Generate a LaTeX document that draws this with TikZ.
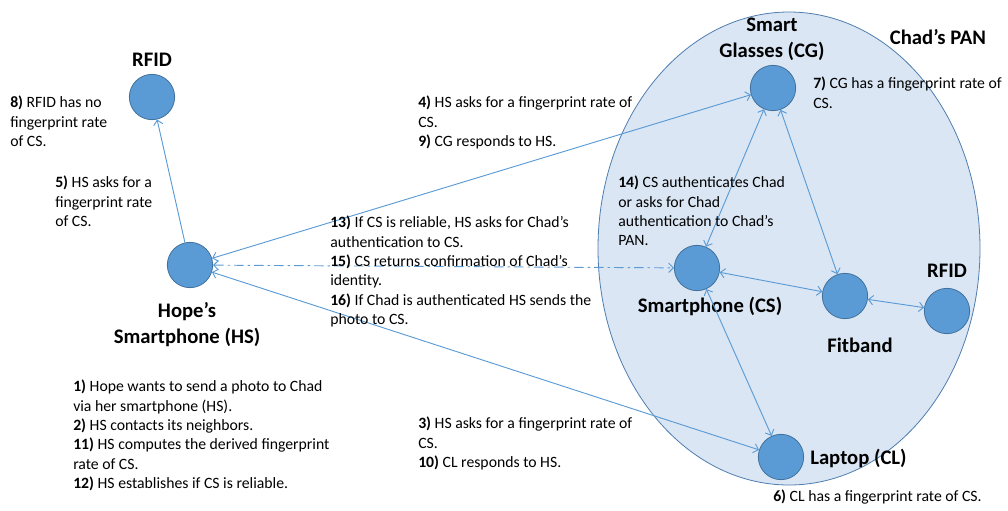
\documentclass[tikz,border=0pt]{standalone}
\usepackage{fontspec}
\setmainfont{Carlito}
\usetikzlibrary{arrows.meta}
\definecolor{nodefill}{HTML}{5B9BD5}
\definecolor{nodeedge}{HTML}{41719C}
\definecolor{panfill}{HTML}{DAE6F4}
\definecolor{panedge}{HTML}{4F7DAE}
\definecolor{linkblue}{HTML}{5B9BD5}
\tikzset{
  dev/.style={circle, fill=nodefill, draw=nodeedge, line width=0.6pt, minimum size=34pt, inner sep=0pt},
  lbl/.style={font=\fontsize{15.5}{19.5}\selectfont\bfseries, align=center, inner sep=0pt},
  note/.style={font=\fontsize{11.8}{14.5}\selectfont, align=left, anchor=north west, inner sep=0pt},
  link/.style={draw=linkblue, line width=0.7pt},
  >={Straight Barb[length=3.5pt,width=7pt]},
  x=0.75pt, y=-0.75pt
}
\begin{document}
\begin{tikzpicture}
\useasboundingbox (0,0) rectangle (1008,511);
% PAN ellipse
\draw[fill=panfill, draw=panedge, line width=0.6pt] (789,248.5) ellipse [x radius=191, y radius=236.5];
\node[lbl] (panlbl) at (938,37) {Chad’s PAN};

% devices
\node[dev] (rfidL) at (152,97) {};
\node[dev] (hs) at (190,265) {};
\node[dev] (cg) at (773,88) {};
\node[dev] (cs) at (697,268) {};
\node[dev] (fit) at (845,296) {};
\node[dev] (rfidR) at (947,311) {};
\node[dev] (lap) at (781,457) {};

% labels
\node[lbl] (lrfidL) at (152,60) {RFID};
\node[lbl] (lhs) at (187,325) {Hope’s\\Smartphone (HS)};
\node[lbl] (lcg) at (772,39) {Smart\\Glasses (CG)};
\node[lbl] (lcs) at (710,306) {Smartphone (CS)};
\node[lbl] (lfit) at (860,345) {Fitband};
\node[lbl] (lrfidR) at (947,271) {RFID};
\node[lbl, anchor=west] (llap) at (810,458) {Laptop (CL)};

% connectors
\draw[link,->] (hs) -- (rfidL);
\draw[link,<->] (hs) -- (cg);
\draw[link,<->, dash pattern=on 7pt off 3pt on 2pt off 3pt] (hs) -- (cs);
\draw[link,<->] (hs) -- (lap);
\draw[link,<->] (cg) -- (cs);
\draw[link,<->] (cg) -- (fit);
\draw[link,<->] (cs) -- (fit);
\draw[link,<->] (fit) -- (rfidR);
\draw[link,<->] (cs) -- (lap);

% notes
\node[note] (n8) at (10,96) {\textbf{8)} RFID has no\\fingerprint rate\\of CS.};
\node[note] (n5) at (55,176) {\textbf{5)} HS asks for a\\fingerprint rate\\of CS.};
\node[note] (n4) at (418,96) {\textbf{4)} HS asks for a fingerprint rate of\\CS.\\\textbf{9)} CG responds to HS.};
\node[note] (n13) at (330,216) {\textbf{13)} If CS is reliable, HS asks for Chad’s\\authentication to CS.\\\textbf{15)} CS returns confirmation of Chad’s\\identity.\\\textbf{16)} If Chad is authenticated HS sends the\\photo to CS.};
\node[note] (n14) at (618,176) {\textbf{14)} CS authenticates Chad\\or asks for Chad\\authentication to Chad’s\\PAN.};
\node[note] (n7) at (813,77) {\textbf{7)} CG has a fingerprint rate of\\CS.};
\node[note] (n3) at (418,417) {\textbf{3)} HS asks for a fingerprint rate of\\CS.\\\textbf{10)} CL responds to HS.};
\node[note] (n6) at (773,490) {\textbf{6)} CL has a fingerprint rate of CS.};
\node[note] (n1) at (73,380) {\textbf{1)} Hope wants to send a photo to Chad\\via her smartphone (HS).\\\textbf{2)} HS contacts its neighbors.\\\textbf{11)} HS computes the derived fingerprint\\rate of CS.\\\textbf{12)} HS establishes if CS is reliable.};
\end{tikzpicture}
\end{document}
